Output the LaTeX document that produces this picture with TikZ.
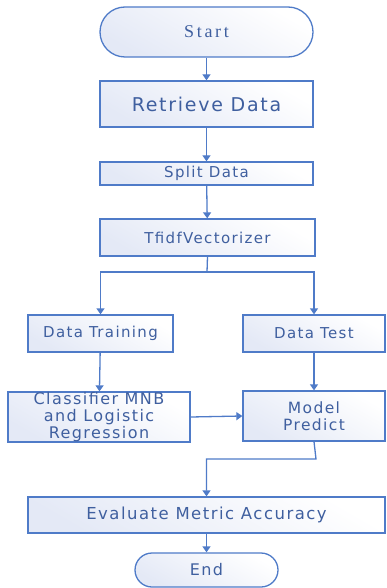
\documentclass[tikz,border=0pt]{standalone}
\usepackage{fontspec}
\setmainfont{DejaVu Sans}[LetterSpace=9]
\newfontfamily\startfont{Liberation Serif}[LetterSpace=15]
\usetikzlibrary{arrows.meta,calc}
\definecolor{lineblue}{HTML}{4F7BC8}
\definecolor{textblue}{HTML}{3F5F9F}
\definecolor{fillblue}{HTML}{E4E9F6}
\tikzset{
  x=1pt,y=-1pt,
  box/.style={draw=lineblue,line width=1.3pt,top color=white,bottom color=fillblue,shading angle=-30,
    inner sep=0pt,align=center,text=textblue,font=\fontsize{15}{17}\selectfont},
  term/.style={box,rounded corners=17pt},
  arr/.style={draw=lineblue,line width=1.3pt,-{Triangle[width=8pt,length=6pt]}},
  ln/.style={draw=lineblue,line width=1.3pt},
}
\begin{document}
\begin{tikzpicture}
\useasboundingbox (0,0) rectangle (386,588);
\node[term,rounded corners=25pt,minimum width=213pt,minimum height=50pt,font=\startfont\fontsize{18}{20}\selectfont] (start) at (206.5,32) {Start};
\node[box,minimum width=213pt,minimum height=46pt,font=\fontsize{19}{21}\selectfont] (ret) at (206.5,104) {Retrieve Data};
\node[box,minimum width=213pt,minimum height=23pt] (split) at (206.5,173.5) {Split Data};
\node[box,minimum width=215pt,minimum height=37pt] (tfidf) at (207.5,237.5) {TfidfVectorizer};
\node[box,minimum width=145pt,minimum height=37pt] (train) at (100.5,333.5) {Data Training};
\node[box,minimum width=142pt,minimum height=37pt] (test) at (314,333.5) {Data Test};
\node[box,minimum width=182pt,minimum height=50pt,font=\fontsize{16}{17}\selectfont] (clf) at (99,417) {Classifier MNB\\and Logistic\\Regression};
\node[box,minimum width=142pt,minimum height=50pt,font=\fontsize{15.5}{17}\selectfont] (pred) at (314,416) {Model\\Predict};
\node[box,minimum width=357pt,minimum height=36pt,font=\fontsize{16.5}{18}\selectfont] (eval) at (206.5,515) {Evaluate Metric Accuracy};
\node[term,minimum width=143pt,minimum height=34pt,font=\fontsize{16}{18}\selectfont] (end) at (206.5,570) {End};
\coordinate (br) at (207,272);
\coordinate (pd) at (316,459);
\draw[arr] (start) -- (ret);
\draw[arr] (ret) -- (split);
\draw[arr] (split) -- (tfidf);
\draw[ln] (tfidf.south) -- (br);
\draw[arr] (br) -| (train.north);
\draw[arr] (br) -| (test.north);
\draw[arr] (train) -- (clf);
\draw[arr] (test) -- (pred);
\draw[arr] (clf.east) -- (pred.west);
\draw[arr] (pred.south) -- (pd) -| (eval.north);
\draw[arr] (eval) -- (end);
\end{tikzpicture}
\end{document}
